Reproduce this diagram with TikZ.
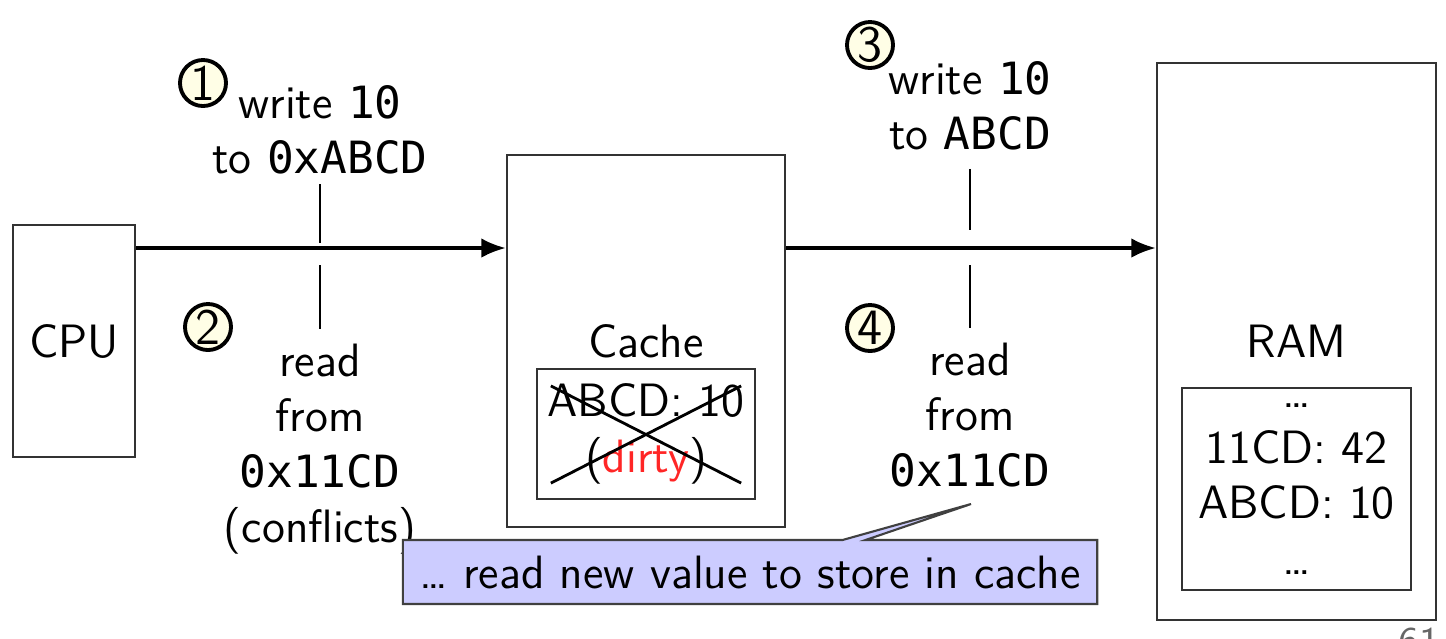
\documentclass[tikz,border=0pt]{standalone}
\usepackage{fontspec}
\setmonofont{DejaVu Sans Mono}[Scale=0.95]
\usetikzlibrary{arrows.meta,shapes.callouts,calc}

\begin{document}
\begin{tikzpicture}[x=0.01cm,y=-0.01cm,
  font=\sffamily\fontsize{13.3}{15.8}\selectfont,
  unit/.style={draw=black!80,line width=0.6pt,inner sep=0pt},
  num/.style={circle,draw,line width=1.1pt,fill=yellow!10,inner sep=0pt,minimum size=0.46cm,font=\sffamily\fontsize{14.5}{15}\selectfont},
  lbl/.style={align=center,inner sep=0pt},
  tick/.style={line width=0.7pt},
  bus/.style={line width=1pt,-{Latex[length=7pt,width=5.6pt]}}]
\useasboundingbox (0,0) rectangle (1446,638);
\node[unit,minimum width=1.22cm,minimum height=2.32cm] (cpu) at (74,341) {CPU};
\node[unit,minimum width=2.78cm,minimum height=3.72cm] (cache) at (646,341) {Cache};
\node[unit,minimum width=2.79cm,minimum height=5.57cm] (ram) at (1296.5,341.5) {RAM};
\node[unit,align=center,minimum width=2.18cm,minimum height=1.3cm] (line) at (646,434) {ABCD: 10\\(\textcolor{red!85}{dirty})};
\draw[line width=0.8pt] ($(line.north west)+(15,18)$) -- ($(line.south east)+(-15,-17)$);
\draw[line width=0.8pt] ($(line.south west)+(15,-17)$) -- ($(line.north east)+(-15,18)$);
\node[unit,align=center,minimum width=2.29cm,minimum height=2.02cm] (mem) at (1296.5,489) {\dots\\11CD: 42\\ABCD: 10\\\dots};
\coordinate (lane) at (0,248);
\draw[bus] (cpu.east |- lane) -- (cache.west |- lane);
\draw[bus] (cache.east |- lane) -- (ram.west |- lane);
\node[lbl] (w1) at (320,130) {write \texttt{10}\\to \texttt{0xABCD}};
\node[lbl] (r2) at (320,449) {read\\from\\\texttt{0x11CD}\\(conflicts)};
\node[lbl] (w3) at (970,106) {write \texttt{10}\\to \texttt{ABCD}};
\node[lbl] (r4) at (970,415) {read\\from\\\texttt{0x11CD}};
\coordinate (k1) at (320,243);
\coordinate (k2) at (320,265);
\coordinate (k3) at (970,230);
\coordinate (k4) at (970,265);
\draw[tick,shorten <=2.5pt] (w1.south) -- (k1);
\draw[tick,shorten >=4pt] (k2) -- (r2.north);
\draw[tick,shorten <=5pt] (w3.south) -- (k3);
\draw[tick,shorten >=4pt] (k4) -- (r4.north);
\node[num] (n1) at (203,83) {1};
\node[num] (n2) at (208,327) {2};
\node[num] (n3) at (870,45) {3};
\node[num] (n4) at (870,328) {4};
\coordinate (tip) at (971,504);
\node[rectangle callout,draw=black!75,line width=0.6pt,fill=blue!20,callout absolute pointer={(tip)},callout pointer width=0.23cm,minimum width=6.94cm,minimum height=0.64cm,inner sep=0pt] (note) at (750,572) {\dots{} read new value to store in cache};
\node[anchor=north east,inner sep=0pt,text=black!60,font=\sffamily\fontsize{12}{14}\selectfont] (page) at (1441,627) {61};
\end{tikzpicture}
\end{document}
